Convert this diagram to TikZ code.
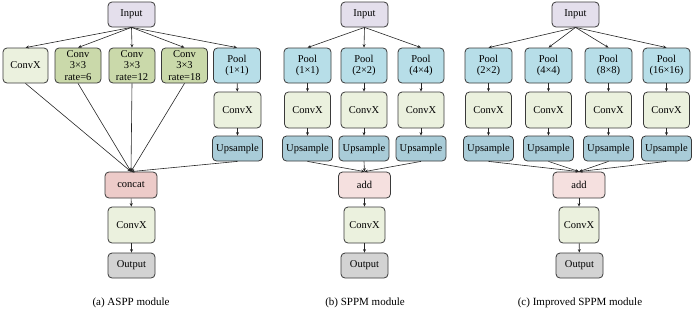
\documentclass[tikz,border=0pt]{standalone}
\usepackage{fontspec}
\setmainfont{Liberation Serif}
\usetikzlibrary{arrows.meta}
\definecolor{cin}{HTML}{E4DFEC}
\definecolor{cconv}{HTML}{EBF1DE}
\definecolor{cdark}{HTML}{CAD9AA}
\definecolor{cpool}{HTML}{B7DEE8}
\definecolor{cup}{HTML}{A9CCD8}
\definecolor{ccat}{HTML}{EDCBC9}
\definecolor{cadd}{HTML}{F5E0DF}
\definecolor{cout}{HTML}{D3D3D3}
\definecolor{cbord}{HTML}{3A3A3A}
\tikzset{
  box/.style={draw=cbord, line width=0.8pt, rounded corners=4pt, align=center, inner sep=0pt,
    font=\fontsize{10.5}{11.3}\selectfont},
  inbox/.style={box, fill=cin, minimum width=47pt, minimum height=25pt},
  convbox/.style={box, fill=cconv, minimum width=46pt, minimum height=36pt},
  darkbox/.style={box, fill=cdark, minimum width=46pt, minimum height=35pt},
  poolbox/.style={box, fill=cpool, minimum width=46pt, minimum height=35pt},
  upbox/.style={box, fill=cup, minimum width=50pt, minimum height=25pt},
  catbox/.style={box, fill=ccat, minimum width=52pt, minimum height=26pt},
  addbox/.style={box, fill=cadd, minimum width=52pt, minimum height=26pt},
  outbox/.style={box, fill=cout, minimum width=47pt, minimum height=25pt},
  conn/.style={draw=black!85, line width=0.6pt, -{Stealth[length=3.5pt,width=3pt]}},
  captext/.style={font=\fontsize{11}{12}\selectfont, inner sep=0pt}
}
\begin{document}
\begin{tikzpicture}[x=1pt,y=-1pt]
\useasboundingbox (0,0) rectangle (695,311);
% ---------- (a) ASPP ----------
\node[inbox] (ainput) at (131.5,14.5) {Input};
\node[convbox, minimum width=45pt, minimum height=35pt] (ac1) at (25.5,65.5) {ConvX};
\node[darkbox] (ac2) at (78,65.5) {Conv\\3×3\\rate=6};
\node[darkbox] (ac3) at (132,65.5) {Conv\\3×3\\rate=12};
\node[darkbox] (ac4) at (184.5,65.5) {Conv\\3×3\\rate=18};
\node[poolbox, minimum width=47pt] (apool) at (237,65.5) {Pool\\(1×1)};
\node[convbox, minimum width=47pt] (aconv) at (237.5,110) {ConvX};
\node[upbox] (aup) at (237.5,148.5) {Upsample};
\node[catbox] (acat) at (131,185) {concat};
\node[convbox, minimum width=47pt] (aconv2) at (131.5,225) {ConvX};
\node[outbox] (aout) at (131.5,265.5) {Output};
\node[captext] (acap) at (131,303) {(a) ASPP module};
\foreach \n in {ac1,ac2,ac3,ac4,apool} \draw[conn] (ainput.south) -- (\n.north);
\foreach \n in {ac1,ac2,ac3,ac4} \draw[conn] (\n.south) -- (acat.north);
\draw[conn] (apool) -- (aconv);
\draw[conn] (aconv) -- (aup);
\draw[conn] (aup.south) -- (acat.north);
\draw[conn] (acat) -- (aconv2);
\draw[conn] (aconv2) -- (aout);
% ---------- (b) SPPM ----------
\node[inbox] (binput) at (364.5,14.5) {Input};
\node[poolbox, minimum width=47pt] (bp1) at (307.5,65.5) {Pool\\(1×1)};
\node[poolbox] (bp2) at (364,65.5) {Pool\\(2×2)};
\node[poolbox] (bp3) at (421,65.5) {Pool\\(4×4)};
\node[convbox] (bc1) at (307.5,110) {ConvX};
\node[convbox] (bc2) at (364,110) {ConvX};
\node[convbox] (bc3) at (421,110) {ConvX};
\node[upbox] (bu1) at (307.5,148.5) {Upsample};
\node[upbox] (bu2) at (364,148.5) {Upsample};
\node[upbox] (bu3) at (421,148.5) {Upsample};
\node[addbox] (badd) at (364.5,185) {add};
\node[convbox, minimum width=41pt] (bconv) at (364.5,225) {ConvX};
\node[outbox] (bout) at (364.5,265.5) {Output};
\node[captext] (bcap) at (365,303) {(b) SPPM module};
\foreach \i in {1,2,3} {
  \draw[conn] (binput.south) -- (bp\i.north);
  \draw[conn] (bp\i) -- (bc\i);
  \draw[conn] (bc\i) -- (bu\i);
  \draw[conn] (bu\i.south) -- (badd.north);
}
\draw[conn] (badd) -- (bconv);
\draw[conn] (bconv) -- (bout);
% ---------- (c) Improved SPPM ----------
\node[inbox] (cinput) at (575.5,14.5) {Input};
\node[poolbox, minimum width=47pt] (cp1) at (488.5,65.5) {Pool\\(2×2)};
\node[poolbox, minimum width=47pt] (cp2) at (548.5,65.5) {Pool\\(4×4)};
\node[poolbox, minimum width=47pt] (cp3) at (608.5,65.5) {Pool\\(8×8)};
\node[poolbox, minimum width=47pt] (cp4) at (666.5,65.5) {Pool\\(16×16)};
\node[convbox] (cc1) at (488.5,110) {ConvX};
\node[convbox] (cc2) at (548.5,110) {ConvX};
\node[convbox] (cc3) at (608.5,110) {ConvX};
\node[convbox] (cc4) at (666.5,110) {ConvX};
\node[upbox] (cu1) at (488.5,148.5) {Upsample};
\node[upbox] (cu2) at (548.5,148.5) {Upsample};
\node[upbox] (cu3) at (608.5,148.5) {Upsample};
\node[upbox] (cu4) at (666.5,148.5) {Upsample};
\node[addbox] (cadd) at (579,185) {add};
\node[convbox, minimum width=40pt] (cconv) at (579,225) {ConvX};
\node[outbox] (cout) at (579.5,265.5) {Output};
\node[captext] (ccap) at (580,303) {(c) Improved SPPM module};
\foreach \i in {1,2,3,4} {
  \draw[conn] (cinput.south) -- (cp\i.north);
  \draw[conn] (cp\i) -- (cc\i);
  \draw[conn] (cc\i) -- (cu\i);
  \draw[conn] (cu\i.south) -- (cadd.north);
}
\draw[conn] (cadd) -- (cconv);
\draw[conn] (cconv) -- (cout);
\end{tikzpicture}
\end{document}
